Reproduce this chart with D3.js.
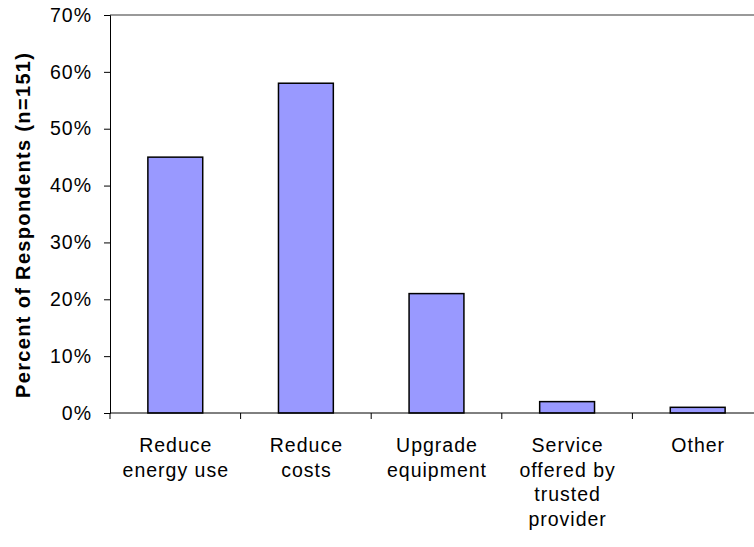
<!DOCTYPE html>
<html>
<head>
<meta charset="utf-8">
<script src="https://cdn.jsdelivr.net/npm/d3@7"></script>
<style>
  html, body { margin: 0; padding: 0; background: #fff; }
  svg { display: block; font-family: Arial, "Liberation Sans", sans-serif; }
</style>
</head>
<body>
<svg id="chart" width="754" height="547"></svg>
<script>
// Survey results: reasons respondents gave (share of 151 respondents)
const categories = [
  ["Reduce", "energy use"],
  ["Reduce", "costs"],
  ["Upgrade", "equipment"],
  ["Service", "offered by", "trusted", "provider"],
  ["Other"]
];
const values = [45, 58, 21, 2, 1];
const yTicks = [0, 10, 20, 30, 40, 50, 60, 70];
const yTitle = "Percent of Respondents (n=151)";

const svg = d3.select("#chart");
const margin = { left: 110, top: 15 };
const plotH = 398;
const bandW = 130.6;
const plotW = bandW * categories.length;

const x = d3.scaleBand()
  .domain(d3.range(categories.length))
  .range([margin.left, margin.left + plotW])
  .paddingInner(0.58)
  .paddingOuter(0.29);

const y = d3.scaleLinear().domain([0, 70]).range([margin.top + plotH, margin.top]);

// top frame line
svg.append("line")
  .attr("x1", margin.left).attr("x2", margin.left + plotW)
  .attr("y1", y(70)).attr("y2", y(70))
  .attr("stroke", "#999").attr("stroke-width", 2);

// bars
svg.append("g").selectAll("rect")
  .data(values)
  .join("rect")
  .attr("x", (d, i) => x(i))
  .attr("width", x.bandwidth())
  .attr("y", d => y(d))
  .attr("height", d => y(0) - y(d))
  .attr("fill", "#9999ff")
  .attr("stroke", "#000")
  .attr("stroke-width", 1.5);

// y axis
const yAxis = svg.append("g")
  .attr("transform", `translate(${margin.left},0)`)
  .call(d3.axisLeft(y).tickValues(yTicks).tickFormat(d => d + "%").tickSize(6).tickPadding(12));
yAxis.select(".domain").attr("stroke", "#000").attr("stroke-width", 1);
yAxis.selectAll("text").attr("font-size", 19.5).attr("fill", "#000")
  .attr("letter-spacing", 1)
  .attr("font-family", "Arial, 'Liberation Sans', sans-serif");

// x axis: ticks at category boundaries
const xBound = d3.scaleLinear().domain([0, categories.length]).range([margin.left, margin.left + plotW]);
const xAxis = svg.append("g")
  .attr("transform", `translate(0,${y(0)})`);
xAxis.append("line")
  .attr("x1", margin.left).attr("x2", margin.left + plotW)
  .attr("stroke", "#000");
xAxis.selectAll("line.tick")
  .data(d3.range(categories.length + 1))
  .join("line")
  .attr("class", "tick")
  .attr("x1", d => xBound(d)).attr("x2", d => xBound(d))
  .attr("y1", 0).attr("y2", 6)
  .attr("stroke", "#000");

// category labels
svg.append("g").selectAll("text")
  .data(categories)
  .join("text")
  .attr("text-anchor", "middle")
  .attr("font-size", 19.5)
  .attr("letter-spacing", 1)
  .attr("fill", "#000")
  .attr("transform", (d, i) => `translate(${x(i) + x.bandwidth() / 2 + 0.5},452)`)
  .selectAll("tspan")
  .data(d => d)
  .join("tspan")
  .attr("x", 0)
  .attr("y", (d, j) => j * 24.5)
  .text(d => d);

// y axis title
svg.append("text")
  .attr("transform", `translate(30,225.5) rotate(-90)`)
  .attr("text-anchor", "middle")
  .attr("font-size", 20)
  .attr("font-weight", "bold")
  .attr("fill", "#000")
  .attr("textLength", 345)
  .attr("lengthAdjust", "spacing")
  .text(yTitle);
</script>
</body>
</html>
